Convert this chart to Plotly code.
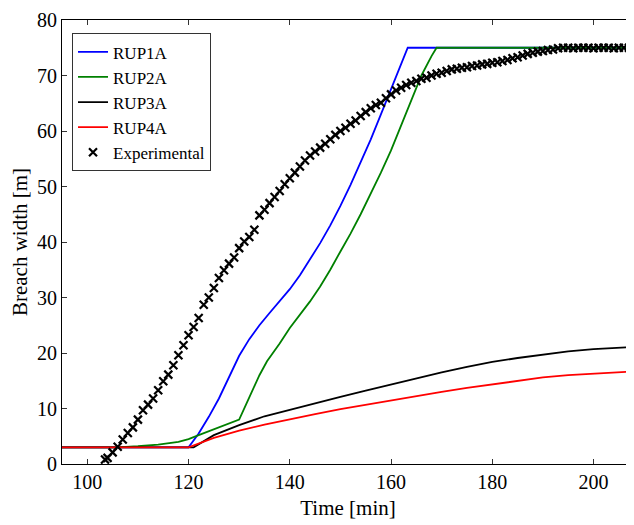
import plotly.graph_objects as go

# Model results (time in min, breach width in m)
rup1a_t = [95, 120, 122, 124, 126, 128, 130, 132, 134, 136, 138, 140, 142, 144, 146, 148,
           150, 152, 154, 156, 158, 160, 162, 163.3, 208]
rup1a_w = [3.0, 3.0, 5.5, 8.5, 11.8, 15.5, 19.5, 22.5, 25.0, 27.2, 29.3, 31.5, 34.0, 36.8, 39.8, 43.0,
           46.5, 50.3, 54.3, 58.5, 63.0, 67.5, 72.0, 75.0, 75.0]

rup2a_t = [95, 106, 110, 114, 118, 120, 122, 124, 126, 128, 130, 132, 134, 135.5, 138, 140, 142,
           144, 146, 148, 150, 152, 154, 156, 158, 160, 162, 164, 166, 168, 169, 208]
rup2a_w = [3.0, 3.0, 3.2, 3.5, 4.0, 4.5, 5.2, 5.9, 6.6, 7.3, 8.0, 12.0, 16.0, 18.5, 21.7, 24.5, 26.8,
           29.3, 32.0, 35.0, 38.3, 41.5, 45.0, 48.7, 52.5, 56.5, 61.0, 65.5, 70.0, 73.5, 75.0, 75.0]

rup3a_t = [95, 121, 125, 130, 135, 140, 145, 150, 155, 160, 165, 170, 175, 180, 185, 190, 195,
           200, 205, 208]
rup3a_w = [3.0, 3.0, 5.2, 7.0, 8.6, 9.8, 11.0, 12.1, 13.2, 14.3, 15.5, 16.5, 17.5, 18.4, 19.1, 19.7,
           20.3, 20.7, 21.0, 21.1]

rup4a_t = [95, 120, 125, 130, 135, 140, 145, 150, 155, 160, 165, 170, 175, 180, 185, 190, 195,
           200, 205, 208]
rup4a_w = [3.0, 3.0, 4.7, 6.0, 7.1, 8.1, 9.0, 9.9, 10.7, 11.5, 12.3, 13.0, 13.7, 14.3, 15.0, 15.6,
           16.0, 16.3, 16.6, 16.7]

# Experimental measurements, one per minute
exp_t = [103.5] + list(range(104, 209))
exp_w = [0.8,
         1.1, 2.1, 3.1, 4.4, 5.6, 6.6, 8.0, 9.7, 10.7, 11.8,
         13.3, 14.9, 16.1, 17.8, 19.6, 21.4, 23.2, 24.7, 26.3, 28.7,
         30.0, 31.7, 33.5, 34.9, 36.1, 37.2, 38.9, 40.1, 40.9, 42.2,
         44.8, 45.8, 47.0, 48.1, 49.2, 50.4, 51.5, 52.5, 53.6, 54.7,
         55.6, 56.3, 57.0, 57.7, 58.5, 59.3, 60.0, 60.6, 61.3, 61.9,
         62.7, 63.4, 64.1, 64.7, 65.1, 65.9, 66.6, 67.3, 67.8, 68.3,
         68.7, 69.0, 69.4, 69.6, 70.0, 70.3, 70.5, 70.8, 71.1, 71.2,
         71.4, 71.5, 71.7, 71.8, 72.0, 72.1, 72.3, 72.4, 72.6, 72.8,
         73.1, 73.3, 73.6, 73.9, 74.1, 74.3, 74.4, 74.6, 74.7, 74.9,
         75.0, 75.0, 74.9, 75.0, 75.0, 75.0, 74.9, 75.0, 75.0, 75.0,
         74.9, 75.0, 75.0, 75.0, 75.0]

FONT = "Liberation Serif"

fig = go.Figure()
fig.add_trace(go.Scatter(x=rup1a_t, y=rup1a_w, mode='lines', name='RUP1A',
                         line=dict(color='#0000ff', width=1.8)))
fig.add_trace(go.Scatter(x=rup2a_t, y=rup2a_w, mode='lines', name='RUP2A',
                         line=dict(color='#008000', width=1.8)))
fig.add_trace(go.Scatter(x=rup3a_t, y=rup3a_w, mode='lines', name='RUP3A',
                         line=dict(color='#000000', width=1.8)))
fig.add_trace(go.Scatter(x=rup4a_t, y=rup4a_w, mode='lines', name='RUP4A',
                         line=dict(color='#ff0000', width=1.8)))
fig.add_trace(go.Scatter(x=exp_t, y=exp_w, mode='markers', name='Experimental',
                         marker=dict(symbol='x-thin', size=8, color='black',
                                     line=dict(color='black', width=2.2))))

# page body adds an 8px offset, so the figure is a bit smaller than the window
fig.update_layout(
    width=626, height=517,
    margin=dict(l=54, r=0, t=12, b=61),
    plot_bgcolor='white', paper_bgcolor='white',
    font=dict(family=FONT, size=20, color='black'),
    showlegend=True,
    legend=dict(x=0.0175, y=0.97, xanchor='left', yanchor='top',
                bgcolor='white', bordercolor='#333333', borderwidth=1,
                font=dict(family=FONT, size=17), itemwidth=30,
                entrywidth=112, tracegroupgap=0),
    xaxis=dict(title=dict(text='Time [min]', font=dict(size=21), standoff=8),
               range=[95, 208], tickvals=[100, 120, 140, 160, 180, 200],
               ticks='inside', ticklen=5, tickcolor='#333333',
               showline=True, linecolor='black', linewidth=1, mirror='ticks',
               showgrid=False, zeroline=False),
    yaxis=dict(title=dict(text='Breach width [m]', font=dict(size=21), standoff=6),
               range=[0, 80], tickvals=[0, 10, 20, 30, 40, 50, 60, 70, 80],
               ticks='inside', ticklen=5, tickcolor='#333333',
               showline=True, linecolor='black', linewidth=1,
               showgrid=False, zeroline=False),
)

fig.write_html("out.html")
